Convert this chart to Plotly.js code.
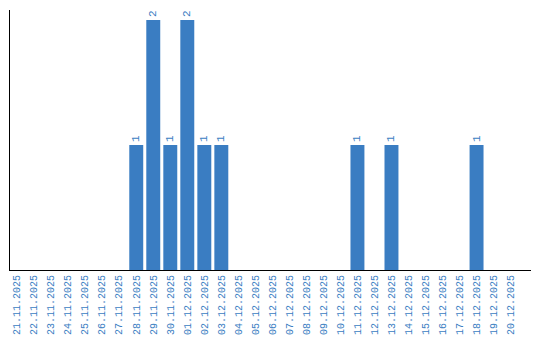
<!DOCTYPE html>
<html><head><meta charset="utf-8">
<script src="https://cdn.plot.ly/plotly-3.0.1.min.js"></script>
<style>html,body{margin:0;padding:0;background:#fff}#c{width:540px;height:340px}</style>
</head><body><div id="c"></div>
<script>
const dates = ["21.11.2025","22.11.2025","23.11.2025","24.11.2025","25.11.2025","26.11.2025","27.11.2025","28.11.2025","29.11.2025","30.11.2025","01.12.2025","02.12.2025","03.12.2025","04.12.2025","05.12.2025","06.12.2025","07.12.2025","08.12.2025","09.12.2025","10.12.2025","11.12.2025","12.12.2025","13.12.2025","14.12.2025","15.12.2025","16.12.2025","17.12.2025","18.12.2025","19.12.2025","20.12.2025"];
const counts = [0,0,0,0,0,0,0,1,2,1,2,1,1,0,0,0,0,0,0,0,1,0,1,0,0,0,0,1,0,0];
const labels = counts.map(v => v > 0 ? String(v) : "");
const blue = "#3a7dc2";
Plotly.newPlot("c", [{
  type: "bar",
  x: dates,
  y: counts,
  text: labels,
  textposition: "outside",
  textangle: -90,
  cliponaxis: false,
  textfont: {family: "Liberation Mono", size: 11, color: blue},
  marker: {color: blue},
  hoverinfo: "none"
}], {
  width: 540, height: 340,
  margin: {l: 10, r: 9, t: 10, b: 70, pad: 0},
  paper_bgcolor: "#fff", plot_bgcolor: "#fff",
  bargap: 0.18,
  showlegend: false,
  xaxis: {
    type: "category",
    range: [-0.42, 30.2],
    showline: true, linecolor: "#000", linewidth: 1,
    showgrid: false, zeroline: false, ticks: "",
    tickangle: -90,
    tickfont: {family: "Liberation Mono", size: 10, color: blue},
    automargin: false
  },
  yaxis: {
    range: [0, 2.08],
    showline: true, linecolor: "#000", linewidth: 1,
    showgrid: false, zeroline: false, ticks: "", showticklabels: false,
    automargin: false
  }
}, {staticPlot: true});
</script>
</body></html>
